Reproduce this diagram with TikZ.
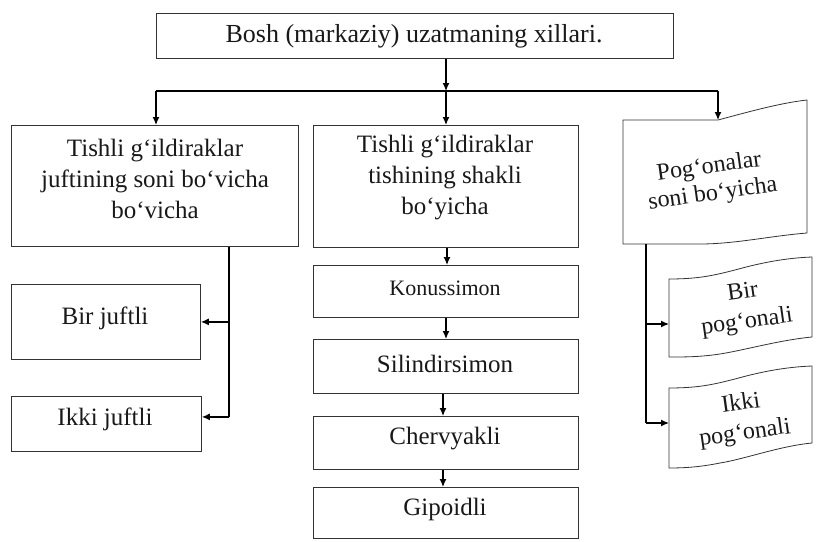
\documentclass[tikz,border=0pt]{standalone}
\usepackage{fontspec}
\setmainfont{Liberation Serif}
\usetikzlibrary{arrows.meta}
\begin{document}
\begin{tikzpicture}[x=1pt,y=-1pt,
  box/.style={draw=black!80, line width=0.8pt, inner sep=0pt, anchor=north west},
  wavy/.style={draw=black!80, line width=0.8pt},
  txt/.style={align=center, font=\fontsize{25}{31}\selectfont, inner sep=0pt, text=black!90},
  conn/.style={line width=1.3pt, black},
  arr/.style={conn, -{Latex[length=8pt,width=7pt]}}]
\useasboundingbox[fill=white] (0,0) rectangle (816,541);
% boxes
\node[box, minimum width=517pt, minimum height=45pt] (T) at (156,13) {};
\node[box, minimum width=287pt, minimum height=121pt] (L) at (11,125) {};
\node[box, minimum width=265pt, minimum height=122pt] (M) at (313,125) {};
\node[box, minimum width=189pt, minimum height=75pt] (B1) at (11,284) {};
\node[box, minimum width=190pt, minimum height=55pt] (B2) at (11,396) {};
\node[box, minimum width=265pt, minimum height=52pt] (K) at (313,265) {};
\node[box, minimum width=265pt, minimum height=54pt] (S) at (313,339) {};
\node[box, minimum width=265pt, minimum height=53pt] (C) at (313,416) {};
\node[box, minimum width=265pt, minimum height=51pt] (G) at (313,487) {};
% wavy right boxes
\coordinate (Ptop) at (718,120);
\coordinate (Pbot) at (646,244);
\draw[wavy] (623,120) -- (Ptop) .. controls (748,112) and (780,103) .. (807,100) -- (807,233) .. controls (770,236) and (735,244) .. (700,244) -- (623,244) -- cycle;
\coordinate (R1in) at (669,324);
\draw[wavy] (669,279) .. controls (700,279) and (715,275) .. (735,270) .. controls (760,263) and (785,258) .. (812,257) -- (812,337) .. controls (780,340) and (745,350) .. (720,354) .. controls (700,357) and (685,357) .. (669,357) -- cycle;
\coordinate (R2in) at (669,423);
\draw[wavy] (669,388) .. controls (700,388) and (715,384) .. (735,379) .. controls (760,372) and (785,367) .. (812,366) -- (812,443) .. controls (780,446) and (745,459) .. (720,463) .. controls (700,467) and (685,468) .. (669,468) -- cycle;
% texts
\node[txt, font=\fontsize{26}{31}\selectfont] (tT) at (414,36) {Bosh (markaziy) uzatmaning xillari.};
\node[txt] (tL) at (155,179) {Tishli g‘ildiraklar\\juftining soni bo‘vicha\\bo‘vicha};
\node[txt] (tM) at (445,178) {Tishli g‘ildiraklar\\tishining shakli\\bo‘yicha};
\node[txt] (tB1) at (105,318) {Bir juftli};
\node[txt] (tB2) at (105,419) {Ikki juftli};
\node[txt, font=\fontsize{22}{28}\selectfont] (tK) at (445,288) {Konussimon};
\node[txt] (tS) at (445,364) {Silindirsimon};
\node[txt] (tC) at (445,439) {Chervyakli};
\node[txt] (tG) at (445,509) {Gipoidli};
\node[txt, rotate=8, font=\fontsize{24}{27}\selectfont] (tP) at (711,181) {Pog‘onalar\\soni bo‘yicha};
\node[txt, rotate=8, font=\fontsize{24}{30}\selectfont] (tR1) at (745,308) {Bir\\pog‘onali};
\node[txt, rotate=8, font=\fontsize{24}{30}\selectfont] (tR2) at (743,419) {Ikki\\pog‘onali};
% connectors
\coordinate (J) at (446,91);
\coordinate (JL) at (156,91);
\coordinate (JR) at (718,91);
\draw[arr] (T.south -| J) -- (J);
\draw[conn] (JL) -- (JR);
\draw[arr] (J) -- (M.north -| J);
\draw[arr] (JL) -- (L.north -| JL);
\draw[arr] (JR) -- (Ptop);
\coordinate (LV) at (229,246);
\coordinate (B2in) at ([yshift=7pt]B2.east);
\draw[conn] (L.south -| LV) -- (LV |- B2in);
\draw[arr] (LV |- B1.east) -- (B1.east);
\draw[arr] (LV |- B2in) -- (B2in);
\draw[arr] (M.south -| 447,0) -- (K.north -| 447,0);
\draw[arr] (K.south -| 446,0) -- (S.north -| 446,0);
\draw[arr] (S.south -| 443,0) -- (C.north -| 443,0);
\draw[arr] (C.south -| 443,0) -- (G.north -| 443,0);
\draw[conn] (Pbot) -- (Pbot |- R2in);
\draw[arr] (Pbot |- R1in) -- (R1in);
\draw[arr] (Pbot |- R2in) -- (R2in);
\end{tikzpicture}
\end{document}
